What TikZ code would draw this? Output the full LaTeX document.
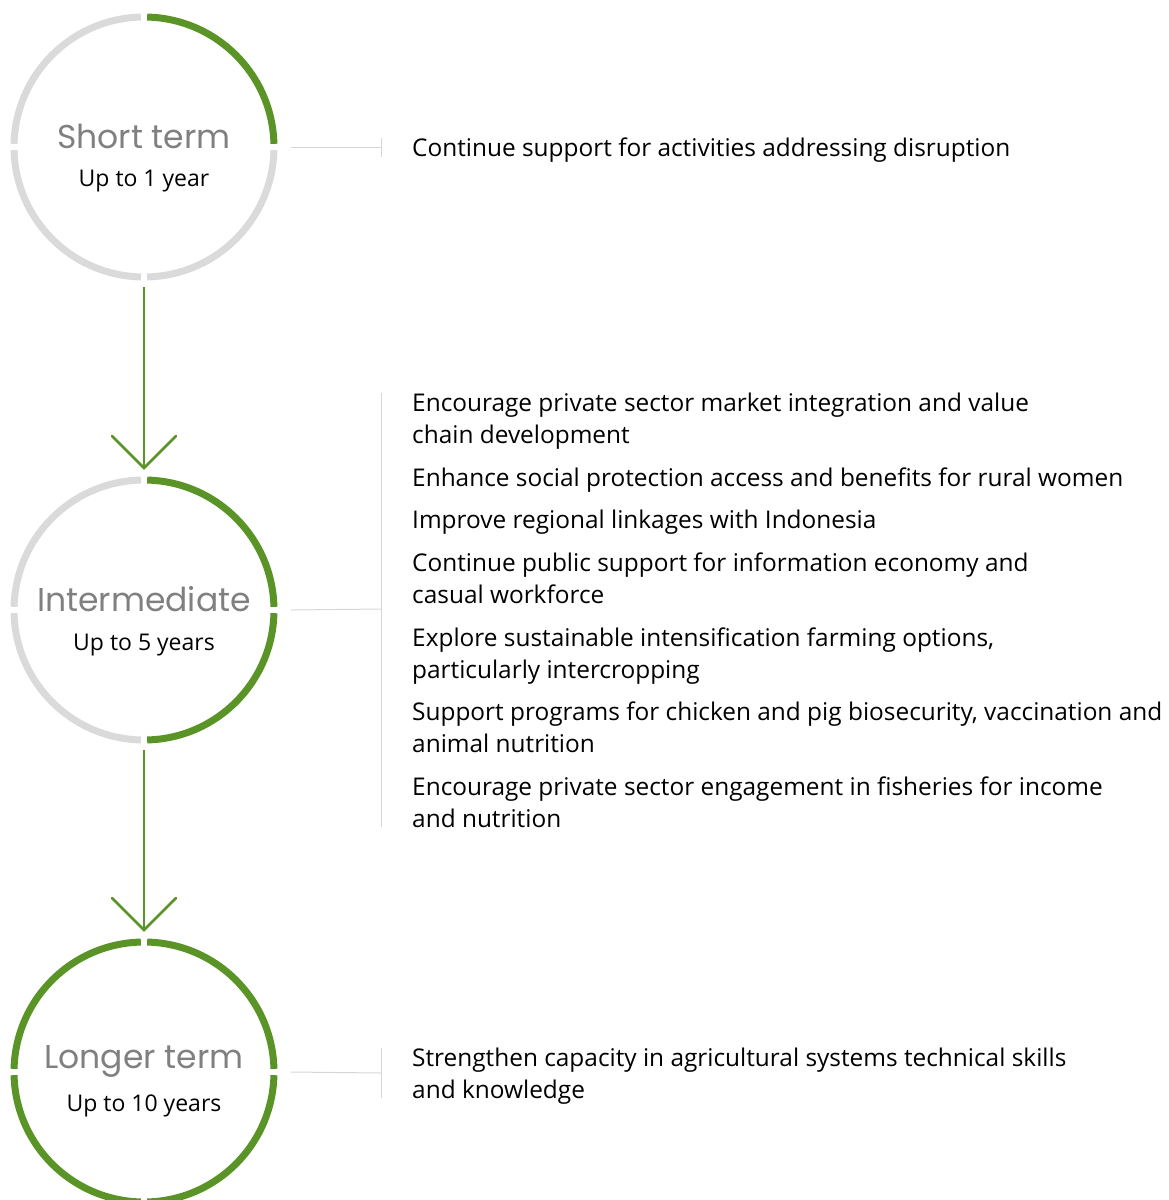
\documentclass[tikz,border=0pt]{standalone}
\usepackage{fontspec}
\setmainfont{Open Sans}
\newfontfamily\titlefont{Poppins}
\definecolor{leaf}{RGB}{90,148,38}
\definecolor{ringgray}{RGB}{218,218,218}
\definecolor{linegray}{RGB}{214,214,214}
\definecolor{titlegray}{RGB}{128,128,128}
\begin{document}
\begin{tikzpicture}[x=1pt,y=-1pt,
  ring/.style={circle,minimum size=280pt,inner sep=0pt},
  greenarc/.style={draw=leaf,line width=7pt},
  grayarc/.style={draw=ringgray,line width=7pt},
  conn/.style={draw=linegray,line width=1pt},
  flow/.style={draw=leaf,line width=2.6pt},
  ttl/.style={font=\titlefont\fontsize{33}{36}\selectfont,text=titlegray},
  sub/.style={font=\fontsize{23}{26}\selectfont,text=black},
  item/.style={anchor=north west,align=left,inner sep=0pt,font=\fontsize{24.4}{32}\selectfont,text=black}]
\useasboundingbox (0,0) rectangle (1168,1200);
% circles
\node[ring] (c1) at (144,147) {};
\node[ring] (c2) at (144,610) {};
\node[ring] (c3) at (144,1072) {};
\def\R{130}
% circle 1
\draw[greenarc] ([shift={(-1.4:\R)}]c1.center) arc[start angle=-1.4,end angle=-88.6,radius=\R];
\draw[grayarc] ([shift={(-91.4:\R)}]c1.center) arc[start angle=-91.4,end angle=-178.6,radius=\R];
\draw[grayarc] ([shift={(-181.4:\R)}]c1.center) arc[start angle=-181.4,end angle=-268.6,radius=\R];
\draw[grayarc] ([shift={(-271.4:\R)}]c1.center) arc[start angle=-271.4,end angle=-358.6,radius=\R];
% circle 2
\draw[greenarc] ([shift={(-1.4:\R)}]c2.center) arc[start angle=-1.4,end angle=-88.6,radius=\R];
\draw[grayarc] ([shift={(-91.4:\R)}]c2.center) arc[start angle=-91.4,end angle=-178.6,radius=\R];
\draw[grayarc] ([shift={(-181.4:\R)}]c2.center) arc[start angle=-181.4,end angle=-268.6,radius=\R];
\draw[greenarc] ([shift={(-271.4:\R)}]c2.center) arc[start angle=-271.4,end angle=-358.6,radius=\R];
% circle 3
\draw[greenarc] ([shift={(-1.4:\R)}]c3.center) arc[start angle=-1.4,end angle=-88.6,radius=\R];
\draw[greenarc] ([shift={(-91.4:\R)}]c3.center) arc[start angle=-91.4,end angle=-178.6,radius=\R];
\draw[greenarc] ([shift={(-181.4:\R)}]c3.center) arc[start angle=-181.4,end angle=-268.6,radius=\R];
\draw[greenarc] ([shift={(-271.4:\R)}]c3.center) arc[start angle=-271.4,end angle=-358.6,radius=\R];
% labels
\node[ttl] (t1) at (144,136) {Short term};
\node[sub] (s1) at (144,181) {Up to 1 year};
\node[ttl] (t2) at (144,599) {Intermediate};
\node[sub] (s2) at (144,645) {Up to 5 years};
\node[ttl] (t3) at (144,1061) {Longer term};
\node[sub] (s3) at (144,1106) {Up to 10 years};
% flow arrows
\coordinate (a1) at (144,468);
\coordinate (a2) at (144,930);
\draw[flow] (c1.south) -- (a1);
\draw[flow,line cap=round,line join=miter] ([shift={(-32,-32)}]a1) -- (a1) -- ([shift={(32,-32)}]a1);
\draw[flow] (c2.south) -- (a2);
\draw[flow,line cap=round,line join=miter] ([shift={(-32,-32)}]a2) -- (a2) -- ([shift={(32,-32)}]a2);
% connectors
\coordinate (k1) at (381,147);
\coordinate (k2) at (381,609);
\coordinate (k3) at (381,1073);
\draw[conn] ([xshift=7pt]c1.east) -- (k1);
\draw[conn] (381,138) -- (381,157);
\draw[conn] ([xshift=7pt]c2.east) -- (k2);
\draw[conn] (381,393) -- (381,827);
\draw[conn] ([xshift=7pt]c3.east) -- (k3);
\draw[conn] (381,1048) -- (381,1098);
% items
\node[item] (i1) at (412,138) {Continue support for activities addressing disruption};
\node[item] (m1) at (412,393) {Encourage private sector market integration and value\\chain development};
\node[item] (m2) at (412,468) {Enhance social protection access and benefits for rural women};
\node[item] (m3) at (412,510) {Improve regional linkages with Indonesia};
\node[item] (m4) at (412,553) {Continue public support for information economy and\\casual workforce};
\node[item] (m5) at (412,628) {Explore sustainable intensification farming options,\\particularly intercropping};
\node[item] (m6) at (412,702) {Support programs for chicken and pig biosecurity, vaccination and\\animal nutrition};
\node[item] (m7) at (412,777) {Encourage private sector engagement in fisheries for income\\and nutrition};
\node[item] (l1) at (412,1048) {Strengthen capacity in agricultural systems technical skills\\and knowledge};
\end{tikzpicture}
\end{document}
